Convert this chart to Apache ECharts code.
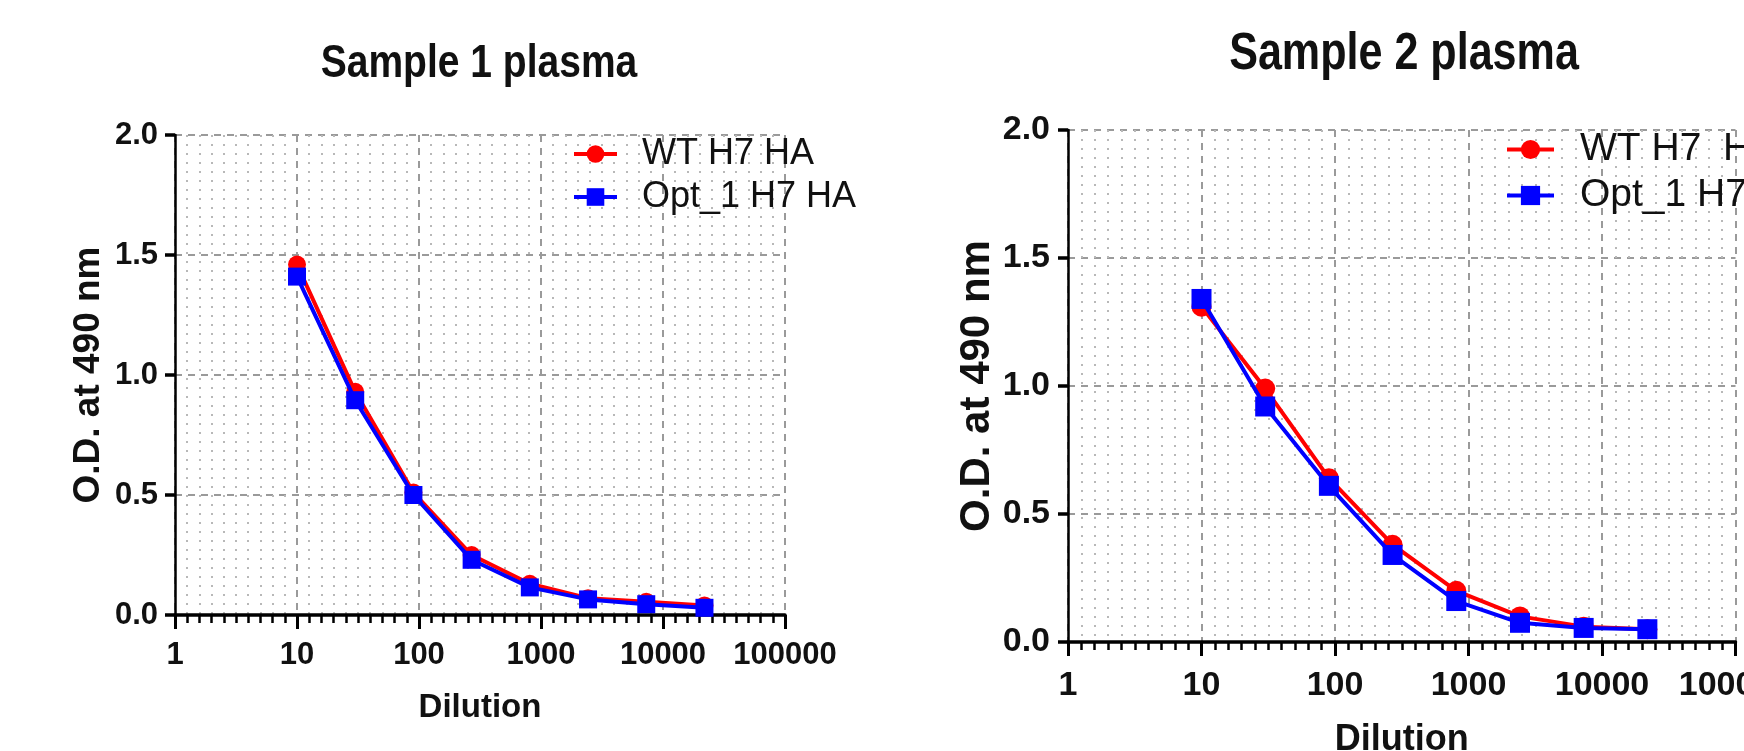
<!DOCTYPE html>
<html>
<head>
<meta charset="utf-8">
<script src="https://cdn.jsdelivr.net/npm/echarts@6/dist/echarts.min.js"></script>
<style>
  html, body { margin: 0; padding: 0; background: #fff; }
  #chart { width: 1744px; height: 751px; }
</style>
</head>
<body>
<div id="chart"></div>
<script>
// ---- data ----
const dilutions = [10, 30, 90, 270, 810, 2430, 7290, 21870];
const sample1WT = [1.46, 0.93, 0.51, 0.25, 0.13, 0.07, 0.055, 0.04];
const sample1Opt = [1.41, 0.895, 0.50, 0.23, 0.115, 0.065, 0.045, 0.03];
const sample2WT = [1.31, 0.99, 0.64, 0.38, 0.20, 0.10, 0.06, 0.05];
const sample2Opt = [1.34, 0.92, 0.61, 0.34, 0.16, 0.075, 0.055, 0.05];
const xTickLabels = ['1', '10', '100', '1000', '10000', '100000'];
const yTickLabels = ['0.0', '0.5', '1.0', '1.5', '2.0'];
const titles = ['Sample 1 plasma', 'Sample 2 plasma'];
const legendNames = [['WT H7 HA', 'Opt_1 H7 HA'], ['WT H7  HA', 'Opt_1 H7 HA']];
const xName = 'Dilution';
const yName = 'O.D. at 490 nm';

const RED = '#ff0000', BLUE = '#0000ff';
const SANS = "'Liberation Sans', Arial, sans-serif";

function pairs(vals) { return dilutions.map((d, i) => [d, vals[i]]); }

// panel layout (pixels) and scale factor for text
const panels = [
  { left: 175, top: 135, right: 785, bottom: 615, s: 1.0, titleX: 479, titleY: 64, titleScale: 0.83,
    legendLeft: 572, legendTop: 136, iconW: 43, textGap: 20, legendFont: 36, legendGap: 7,
    wt: sample1WT, opt: sample1Opt, yGap: 68, yFont: 37, xGap: 76, xMargin: 25, yMargin: 17 },
  { left: 1068, top: 130, right: 1735.5, bottom: 642, s: 1.085, titleX: 1404, titleY: 55, titleScale: 0.845,
    legendLeft: 1505, legendTop: 130, iconW: 47, textGap: 21, legendFont: 39, legendGap: 7,
    wt: sample2WT, opt: sample2Opt, yGap: 67, yFont: 42, xGap: 80, xMargin: 27, yMargin: 18 }
];

const grid = [], xAxis = [], yAxis = [], series = [], legend = [], graphic = [];
panels.forEach((p, i) => {
  const s = p.s;
  grid.push({ left: p.left, top: p.top, width: p.right - p.left, height: p.bottom - p.top,
    containLabel: false, outerBoundsMode: 'none' });
  // main log axis
  xAxis.push({
    type: 'log', logBase: 10, gridIndex: i, min: 1, max: 100000, splitNumber: 5,
    name: xName, nameLocation: 'middle', nameGap: p.xGap,
    nameTextStyle: { fontFamily: SANS, fontWeight: 'bold', fontSize: Math.round(33 * s), color: '#111' },
    axisLine: { show: true, lineStyle: { color: '#000', width: 3.5 } },
    axisTick: { show: true, length: 14, lineStyle: { color: '#000', width: 3 } },
    axisLabel: { show: true, margin: p.xMargin, fontFamily: SANS, fontWeight: 'bold',
      fontSize: Math.round(31 * s), color: '#111',
      formatter: v => { const k = Math.round(Math.log10(v)); return xTickLabels[k] !== undefined ? xTickLabels[k] : ''; } },
    splitLine: { show: true, lineStyle: { color: '#9a9a9a', width: 2, type: [7, 6] } },
    minorTick: { show: false }, minorSplitLine: { show: false }
  });
  // helper linear axis (log10 space) for evenly spaced minor ticks / dotted grid
  xAxis.push({
    type: 'value', gridIndex: i, min: 0, max: 5, interval: 1, position: 'bottom',
    axisLine: { show: false }, axisTick: { show: false }, axisLabel: { show: false },
    splitLine: { show: false },
    minorTick: { show: true, splitNumber: 10, length: 8, lineStyle: { color: '#000', width: 2.5 } },
    minorSplitLine: { show: true, lineStyle: { color: '#b8b8b8', width: 2, type: [2, 7] } }
  });
  yAxis.push({
    type: 'value', gridIndex: i, min: 0, max: 2, interval: 0.5,
    name: yName, nameLocation: 'middle', nameGap: p.yGap, nameRotate: 90,
    nameTextStyle: { fontFamily: SANS, fontWeight: 'bold', fontSize: p.yFont, color: '#111' },
    axisLine: { show: true, lineStyle: { color: '#000', width: 2.5 } },
    axisTick: { show: true, length: 10, lineStyle: { color: '#000', width: 3.5 } },
    axisLabel: { show: true, margin: p.yMargin, fontFamily: SANS, fontWeight: 'bold',
      fontSize: Math.round(31 * s), color: '#111',
      formatter: v => yTickLabels[Math.round(v / 0.5)] },
    splitLine: { show: true, lineStyle: { color: '#9a9a9a', width: 2, type: [7, 6] } }
  });
  const names = legendNames[i];
  series.push({
    name: names[0], type: 'line', xAxisIndex: i * 2, yAxisIndex: i, data: pairs(p.wt),
    symbol: 'circle', symbolSize: Math.round(18 * s), color: RED,
    lineStyle: { color: RED, width: 4 }, itemStyle: { color: RED }, z: 3, animation: false
  });
  series.push({
    name: names[1], type: 'line', xAxisIndex: i * 2, yAxisIndex: i, data: pairs(p.opt),
    symbol: 'rect', symbolSize: Math.round(18 * s), color: BLUE,
    lineStyle: { color: BLUE, width: 4 }, itemStyle: { color: BLUE }, z: 4, animation: false
  });
  legend.push({
    data: names, orient: 'vertical', left: p.legendLeft, top: p.legendTop,
    itemWidth: p.iconW, itemHeight: Math.round(22 * s), itemGap: p.legendGap,
    selectedMode: false, padding: 0,
    lineStyle: { width: 4 },
    textStyle: { fontFamily: SANS, fontSize: p.legendFont, color: '#111', lineHeight: p.legendFont,
      padding: [0, 0, 0, p.textGap] }
  });
  graphic.push({
    type: 'text', x: p.titleX, y: p.titleY, silent: true, scaleX: p.titleScale,
    style: { text: titles[i], fontFamily: SANS, fontWeight: 'bold', fontSize: Math.round(47 * s),
      fill: '#111', align: 'center', verticalAlign: 'middle' }
  });
});

const chart = echarts.init(document.getElementById('chart'), null, { renderer: 'canvas' });
chart.setOption({
  animation: false,
  backgroundColor: '#fff',
  grid, xAxis, yAxis, series, legend, graphic,
  tooltip: { show: false }
});
</script>
</body>
</html>
